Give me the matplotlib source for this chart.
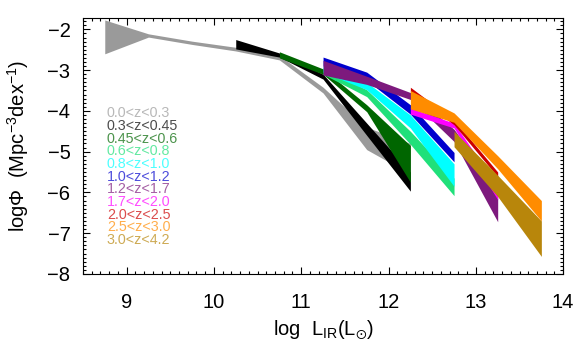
import numpy as np
import matplotlib
matplotlib.use("Agg")
import matplotlib.pyplot as plt
from matplotlib.ticker import MultipleLocator

plt.rcParams['font.family'] = ['Liberation Sans', 'DejaVu Sans']
plt.rcParams['mathtext.default'] = 'regular'

# intervalos de redshift
labels = ['0.0<z<0.3', '0.3<z<0.45', '0.45<z<0.6', '0.6<z<0.8', '0.8<z<1.0',
          '1.0<z<1.2', '1.2<z<1.7', '1.7<z<2.0', '2.0<z<2.5', '2.5<z<3.0',
          '3.0<z<4.2']
colors = ['#9a9a9a', 'black', '#006600', '#20e07a', '#00ffff', '#0000cd',
          '#7d1a7d', '#ff00ff', '#cc0000', '#ff8c00', '#b8860b']

# log L_IR y limites superior/inferior de log Phi para cada intervalo
x_0 = [8.75, 9.25, 9.75, 10.25, 10.75, 11.25, 11.75, 12.25]
hi_0 = [-1.77, -2.11, -2.29, -2.44, -2.64, -3.42, -4.40, -4.80]
lo_0 = [-2.60, -2.19, -2.37, -2.53, -2.75, -3.56, -4.95, -5.55]

x_1 = [10.25, 10.75, 11.25, 11.75, 12.25]
hi_1 = [-2.25, -2.58, -3.10, -4.30, -5.50]
lo_1 = [-2.48, -2.68, -3.22, -4.60, -5.97]

x_2 = [10.75, 11.25, 11.75, 12.25]
hi_2 = [-2.55, -2.97, -3.85, -4.85]
lo_2 = [-2.70, -3.10, -4.02, -5.75]

x_3 = [11.25, 11.75, 12.25, 12.75]
hi_3 = [-2.95, -3.48, -4.50, -5.65]
lo_3 = [-3.10, -3.65, -4.82, -6.08]

x_4 = [11.25, 11.75, 12.25, 12.75]
hi_4 = [-2.90, -3.30, -4.10, -5.30]
lo_4 = [-3.05, -3.48, -4.42, -5.85]

x_5 = [11.25, 11.75, 12.25, 12.75]
hi_5 = [-2.68, -3.05, -3.85, -5.02]
lo_5 = [-2.90, -3.25, -4.08, -5.25]

x_6 = [11.25, 11.75, 12.25, 12.75, 13.25]
hi_6 = [-2.76, -3.15, -3.55, -4.45, -5.95]
lo_6 = [-3.12, -3.35, -3.72, -4.75, -6.72]

x_7 = [12.25, 12.75, 13.25]
hi_7 = [-3.93, -4.30, -5.85]
lo_7 = [-4.08, -4.42, -6.18]

x_8 = [12.25, 12.75, 13.25]
hi_8 = [-3.42, -4.22, -5.50]
lo_8 = [-3.55, -4.34, -5.62]

x_9 = [12.25, 12.75, 13.25, 13.75]
hi_9 = [-3.50, -4.05, -5.10, -6.20]
lo_9 = [-3.95, -4.28, -5.42, -6.70]

x_10 = [12.75, 13.25, 13.75]
hi_10 = [-4.50, -5.58, -6.70]
lo_10 = [-4.88, -6.10, -7.57]

xs = [x_0, x_1, x_2, x_3, x_4, x_5, x_6, x_7, x_8, x_9, x_10]
his = [hi_0, hi_1, hi_2, hi_3, hi_4, hi_5, hi_6, hi_7, hi_8, hi_9, hi_10]
los = [lo_0, lo_1, lo_2, lo_3, lo_4, lo_5, lo_6, lo_7, lo_8, lo_9, lo_10]

fig = plt.figure(figsize=(5.8, 3.45), dpi=100)
ax = fig.add_axes([0.143, 0.206, 0.828, 0.742])

for x, hi, lo, c in zip(xs, his, los, colors):
    ax.fill_between(x, lo, hi, color=c, lw=0)

# leyenda con texto coloreado
for i, (lab, c) in enumerate(zip(labels, colors)):
    ax.text(0.05, 0.627 - i * 0.0495, lab, color=c, alpha=0.7, fontsize=10.3,
            transform=ax.transAxes, va='center', ha='left')

ax.set_xlim(8.5, 14)
ax.set_ylim(-8.0, -1.72)
ax.xaxis.set_major_locator(MultipleLocator(1))
ax.xaxis.set_minor_locator(MultipleLocator(0.1))
ax.yaxis.set_major_locator(MultipleLocator(1))
ax.yaxis.set_minor_locator(MultipleLocator(0.1))
ax.tick_params(which='both', direction='in', top=True, right=True,
               labelsize=14.5, width=0.8)
ax.tick_params(which='major', length=5)
ax.tick_params(which='minor', length=2.5)
ax.tick_params(axis='x', which='major', pad=14)
ax.tick_params(axis='y', which='major', pad=9)

ax.set_xlabel(r'log  L$_{IR}$(L$_{\odot}$)', fontsize=14.5, labelpad=4)
ax.set_ylabel(r'log$\Phi$  (Mpc$^{-3}$dex$^{-1}$)', fontsize=14.5, labelpad=12)

fig.savefig('out.png', dpi=100)
